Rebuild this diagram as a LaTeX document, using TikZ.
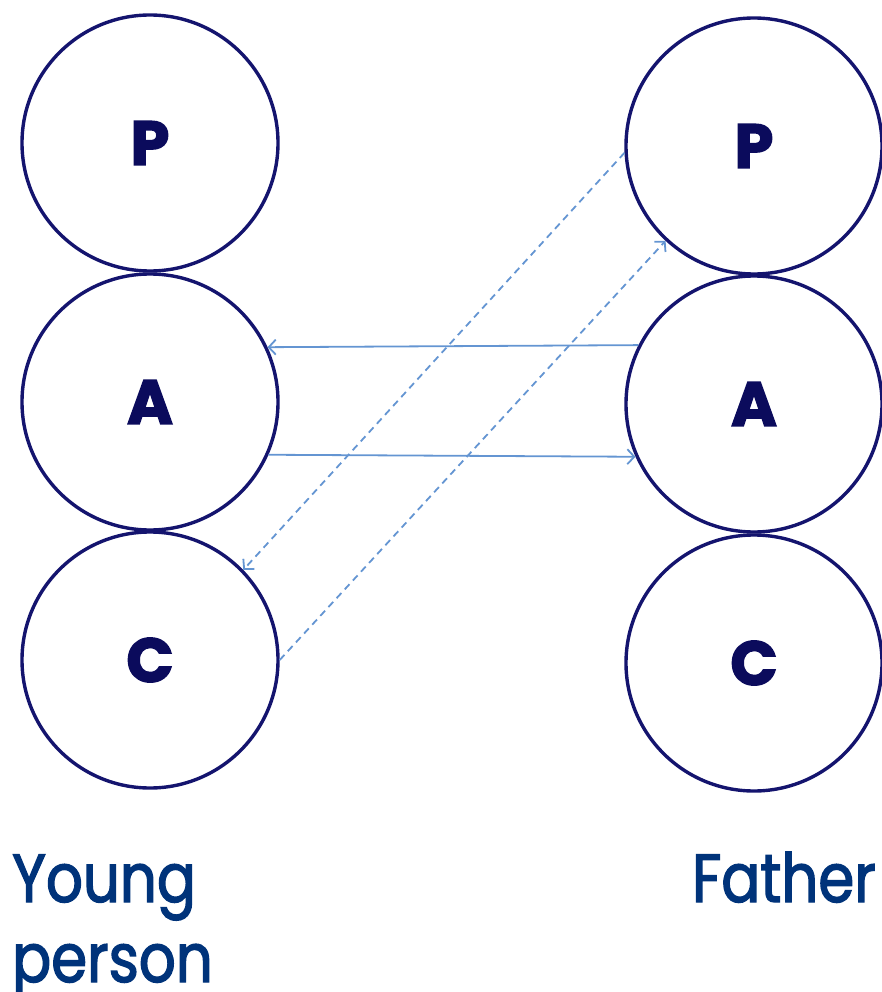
\documentclass[tikz,border=0pt]{standalone}
\usepackage{fontspec}
\newfontfamily\pop{Poppins}
\newfontfamily\poplab[FakeStretch=0.85,FakeBold=2]{Poppins}
\newfontfamily\popbig[FakeBold=2.5]{Poppins Bold}
\usetikzlibrary{arrows.meta}
\definecolor{ring}{HTML}{14146E}
\definecolor{letter}{HTML}{0B0B5C}
\definecolor{lab}{HTML}{00337A}
\definecolor{arr}{HTML}{6495D2}
\tikzset{
  ego/.style={circle,draw=ring,line width=3.4pt,minimum size=256pt,inner sep=0pt,
    font=\popbig\fontsize{62}{62}\selectfont,text=letter},
  link/.style={draw=arr,line width=1.8pt,-{Straight Barb[length=7pt,width=15pt,line width=1.8pt]}},
  dlink/.style={link,dash pattern=on 7pt off 5pt},
  lbl/.style={font=\poplab\fontsize{68}{80}\selectfont,text=lab,inner sep=0pt}
}
\begin{document}
\begin{tikzpicture}[x=1pt,y=-1pt]
\useasboundingbox (0,0) rectangle (882,992);
\node[ego] (lp) at (150,143) {P};
\node[ego] (la) at (150,402) {A};
\node[ego] (lc) at (150,660) {C};
\node[ego] (rp) at (754,146) {P};
\node[ego] (ra) at (754,404) {A};
\node[ego] (rc) at (754,663) {C};
\draw[link] (ra.153) -- (la.25);
\draw[link] (la.-24) -- (ra.204);
\draw[dlink] (rp.183) -- (lc.44);
\draw[dlink] (lc.0) -- (rp.227);
\node[lbl,anchor=base west] (ly) at (12,902) {Young};
\node[lbl,anchor=base west] (lpn) at (12,982) {person};
\node[lbl,anchor=base east] (lf) at (876,902) {Father};
\end{tikzpicture}
\end{document}
